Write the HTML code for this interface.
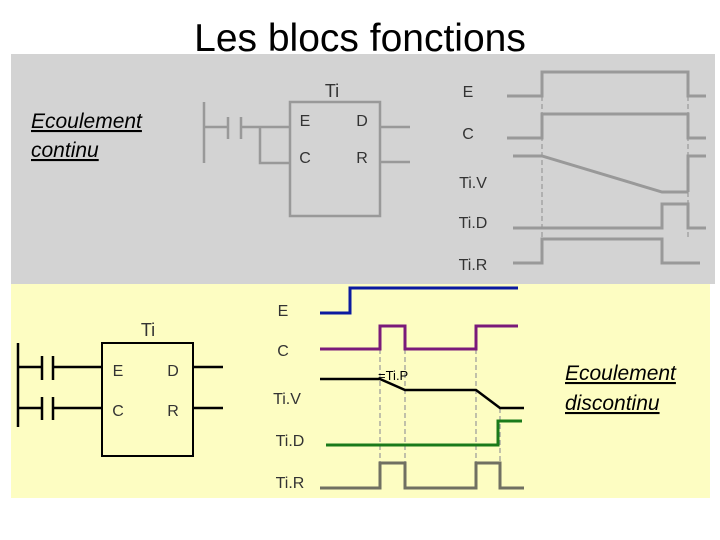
<!DOCTYPE html>
<html><head><meta charset="utf-8"><style>
html,body{margin:0;padding:0;background:#fff;width:720px;height:540px;overflow:hidden}
svg{display:block}
text{font-family:"Liberation Sans","DejaVu Sans",sans-serif}
</style></head><body>
<svg width="720" height="540" viewBox="0 0 720 540" xmlns="http://www.w3.org/2000/svg">
<rect x="11" y="54" width="704" height="230" fill="#d3d3d3"/>
<rect x="11" y="284" width="699" height="214" fill="#fdfdc2"/>
<text x="360" y="51" font-size="39" text-anchor="middle" fill="#000">Les blocs fonctions</text>

<g font-style="italic" font-size="21" text-decoration="underline" fill="#000">
<text x="31" y="128">Ecoulement</text>
<text x="31" y="157"> continu</text>
<text x="565" y="380">Ecoulement</text>
<text x="565" y="410">discontinu</text>
</g>

<!-- top ladder -->
<g stroke="#999" stroke-width="2.5" fill="none">
<line x1="204" y1="102" x2="204" y2="163"/>
<line x1="204" y1="127" x2="228" y2="127"/>
<line x1="228" y1="117" x2="228" y2="139"/>
<line x1="241" y1="117" x2="241" y2="139"/>
<line x1="241" y1="127" x2="290" y2="127"/>
<polyline points="260,127 260,163 290,163"/>
<rect x="290" y="102" width="90" height="114"/>
<line x1="380" y1="127" x2="410" y2="127"/>
<line x1="380" y1="162" x2="410" y2="162"/>
</g>
<g font-size="16" fill="#333" text-anchor="middle">
<text x="332" y="97" font-size="18">Ti</text>
<text x="305" y="126">E</text><text x="362" y="126">D</text>
<text x="305" y="163">C</text><text x="362" y="163">R</text>
<text x="468" y="97">E</text><text x="468" y="139">C</text>
<text x="473" y="188">Ti.V</text><text x="473" y="228">Ti.D</text><text x="473" y="270">Ti.R</text>
</g>
<g stroke="#999" stroke-width="3" fill="none">
<polyline points="507,96 542,96 542,72 688,72 688,96 706,96"/>
<polyline points="507,138 542,138 542,114 688,114 688,138 706,138"/>
<polyline points="513,156 542,156 662,192 688,192"/>
<polyline points="688,192 688,156 706,156"/>
<polyline points="513,228 662,228 662,204 688,204 688,228 706,228"/>
<polyline points="513,263 542,263 542,239 662,239 662,263 700,263"/>
</g>
<g stroke="#999" stroke-width="1.2" stroke-dasharray="5,3" fill="none">
<line x1="542" y1="96" x2="542" y2="263"/>
<line x1="688" y1="72" x2="688" y2="238"/>
</g>

<!-- bottom ladder -->
<g stroke="#000" stroke-width="2.5" fill="none">
<line x1="18" y1="343" x2="18" y2="427"/>
<line x1="18" y1="367" x2="42" y2="367"/>
<line x1="42" y1="356" x2="42" y2="380"/>
<line x1="53" y1="356" x2="53" y2="380"/>
<line x1="53" y1="367" x2="102" y2="367"/>
<line x1="18" y1="408" x2="42" y2="408"/>
<line x1="42" y1="397" x2="42" y2="420"/>
<line x1="53" y1="397" x2="53" y2="420"/>
<line x1="53" y1="408" x2="102" y2="408"/>
<rect x="102" y="343" width="91" height="113" stroke-width="2"/>
<line x1="193" y1="367" x2="223" y2="367"/>
<line x1="193" y1="408" x2="223" y2="408"/>
</g>
<g font-size="16" fill="#333" text-anchor="middle">
<text x="148" y="336" font-size="18">Ti</text>
<text x="118" y="376">E</text><text x="173" y="376">D</text>
<text x="118" y="416">C</text><text x="173" y="416">R</text>
<text x="283" y="316">E</text><text x="283" y="356">C</text>
<text x="287" y="404">Ti.V</text><text x="290" y="446">Ti.D</text><text x="290" y="488">Ti.R</text>
</g>
<g stroke="#999" stroke-width="1.2" stroke-dasharray="5,3" fill="none">
<line x1="380" y1="349" x2="380" y2="488"/>
<line x1="405" y1="349" x2="405" y2="488"/>
<line x1="476" y1="349" x2="476" y2="488"/>
<line x1="500" y1="408" x2="500" y2="488"/>
</g>
<g stroke-width="3" fill="none">
<polyline stroke="#0b1aa0" points="320,313 350,313 350,288 518,288"/>
<polyline stroke="#7a1a7a" points="320,349 380,349 380,326 405,326 405,349 476,349 476,326 518,326"/>
<polyline stroke="#000" stroke-width="2.5" points="320,379 380,379 405,390 476,390 500,408 524,408"/>
<polyline stroke="#1a7a1a" points="326,445 498,445 498,421 522,421"/>
<polyline stroke="#707062" points="320,488 380,488 380,463 405,463 405,488 476,488 476,463 500,463 500,488 524,488"/>
</g>
<text x="378" y="380" font-size="13" fill="#000">=Ti.P</text>
</svg>
</body></html>
